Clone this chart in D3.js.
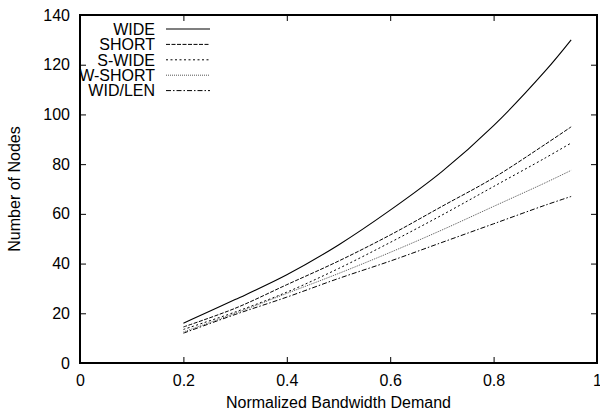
<!DOCTYPE html>
<html>
<head>
<meta charset="utf-8">
<script src="https://cdn.jsdelivr.net/npm/d3@7"></script>
<style>
  html, body { margin: 0; padding: 0; background: #fff; }
  svg { display: block; font-family: "Liberation Sans", Arial, Helvetica, sans-serif; }
</style>
</head>
<body>
<svg id="chart" width="600" height="414"></svg>
<script>
// Normalized bandwidth demand (x) sampled along each curve
const demand = [0.2, 0.3, 0.4, 0.5, 0.6, 0.7, 0.8, 0.9, 0.95];

// Number of nodes for each scheme
const wide   = [16, 25.5, 35.5, 47.5, 61.5, 77, 95.5, 117.5, 130];
const short  = [14.5, 22, 31.5, 41, 51.5, 63, 74.5, 88, 95];
const sWide  = [13.5, 20.5, 28.5, 38, 48.5, 59.5, 71, 82.5, 88.5];
const wShort = [12.5, 20, 28, 36, 44.5, 53.5, 63, 72.5, 77.5];
const widLen = [12, 19.5, 26.5, 34, 41, 48.5, 56, 63.5, 67];

const seriesNames = ["WIDE", "SHORT", "S-WIDE", "W-SHORT", "WID/LEN"];
const seriesValues = [wide, short, sWide, wShort, widLen];

const xTicks = [0, 0.2, 0.4, 0.6, 0.8, 1];
const yTicks = [0, 20, 40, 60, 80, 100, 120, 140];

const xTitle = "Normalized Bandwidth Demand";
const yTitle = "Number of Nodes";

// line styles per series
const styles = [
  { dash: null,        color: "#000", width: 1.1 },
  { dash: "4,1.5",     color: "#000", width: 1 },
  { dash: "2,2.5",     color: "#000", width: 1 },
  { dash: "1,1",       color: "#555", width: 1 },
  { dash: "5,2,1.5,2", color: "#000", width: 1 }
];

const svg = d3.select("#chart");
const m = { left: 80, right: 3, top: 15, bottom: 51 };
const W = 600, H = 414;

const x = d3.scaleLinear().domain([0, 1]).range([m.left, W - m.right]);
const y = d3.scaleLinear().domain([0, 140]).range([H - m.bottom, m.top]);

const fontSize = 16;
const tickLen = 6;

// axes with inward ticks on all four sides
const axisBottom = d3.axisBottom(x).tickValues(xTicks).tickSize(-tickLen).tickPadding(12)
  .tickFormat(d => d === 0 || d === 1 ? d3.format("d")(d) : d3.format(".1f")(d));
const axisTop = d3.axisTop(x).tickValues(xTicks).tickSize(-tickLen).tickFormat("");
const axisLeft = d3.axisLeft(y).tickValues(yTicks).tickSize(-tickLen).tickPadding(10);
const axisRight = d3.axisRight(y).tickValues(yTicks).tickSize(-tickLen).tickFormat("");

function styleAxis(g) {
  g.select(".domain").remove();
  g.selectAll(".tick line").attr("stroke", "#000").attr("stroke-width", 1);
  g.selectAll(".tick text").attr("fill", "#000").attr("font-size", fontSize)
    .attr("font-family", "Liberation Sans, Arial, Helvetica, sans-serif");
}

svg.append("g").attr("transform", `translate(0,${y(0)})`).call(axisBottom).call(styleAxis);
svg.append("g").attr("transform", `translate(0,${y(140)})`).call(axisTop).call(styleAxis);
svg.append("g").attr("transform", `translate(${x(0)},0)`).call(axisLeft).call(styleAxis);
svg.append("g").attr("transform", `translate(${x(1)},0)`).call(axisRight).call(styleAxis);

// frame
svg.append("rect")
  .attr("x", x(0)).attr("y", y(140))
  .attr("width", x(1) - x(0)).attr("height", y(0) - y(140))
  .attr("fill", "none").attr("stroke", "#000").attr("stroke-width", 2);

// curves
const line = d3.line()
  .x(d => x(d[0]))
  .y(d => y(d[1]))
  .curve(d3.curveCatmullRom.alpha(0.5));

seriesValues.forEach((vals, i) => {
  const pts = demand.map((d, j) => [d, vals[j]]);
  svg.append("path")
    .datum(pts)
    .attr("d", line)
    .attr("fill", "none")
    .attr("stroke", styles[i].color)
    .attr("stroke-width", styles[i].width)
    .attr("stroke-dasharray", styles[i].dash);
});

// legend
const legend = svg.append("g");
const legTextX = 155, legLineX0 = 166, legLineX1 = 210, legY0 = 29, legStep = 15.4;
seriesNames.forEach((name, i) => {
  const yy = legY0 + i * legStep;
  legend.append("text")
    .attr("x", legTextX).attr("y", yy)
    .attr("dy", "0.36em")
    .attr("text-anchor", "end")
    .attr("font-size", fontSize)
    .text(name);
  legend.append("line")
    .attr("x1", legLineX0).attr("x2", legLineX1)
    .attr("y1", yy).attr("y2", yy)
    .attr("stroke", styles[i].color)
    .attr("stroke-width", styles[i].width)
    .attr("stroke-dasharray", styles[i].dash);
});

// axis titles
svg.append("text")
  .attr("x", (x(0) + x(1)) / 2).attr("y", 408)
  .attr("text-anchor", "middle")
  .attr("font-size", fontSize)
  .text(xTitle);

svg.append("text")
  .attr("transform", `translate(20,${(y(0) + y(140)) / 2}) rotate(-90)`)
  .attr("text-anchor", "middle")
  .attr("font-size", fontSize)
  .text(yTitle);
</script>
</body>
</html>
